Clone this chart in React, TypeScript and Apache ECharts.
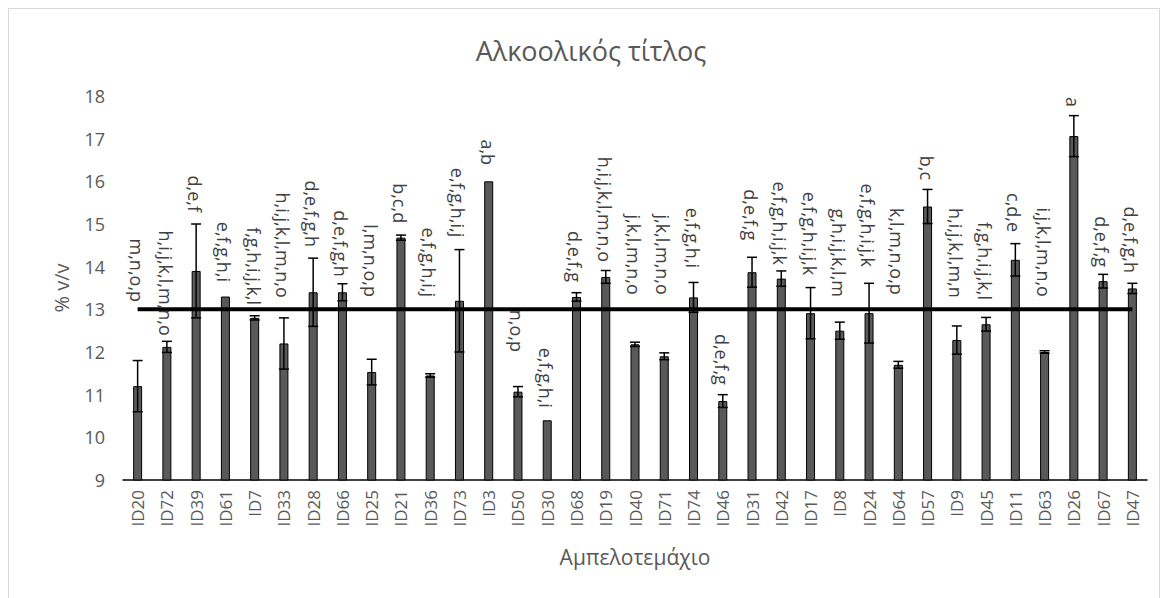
import React, { useEffect, useRef } from "react";
import * as echarts from "echarts";

// Vineyard plots (x-axis categories)
const plots = [
  "ID20", "ID72", "ID39", "ID61", "ID7", "ID33", "ID28", "ID66", "ID25", "ID21",
  "ID36", "ID73", "ID3", "ID50", "ID30", "ID68", "ID19", "ID40", "ID71", "ID74",
  "ID46", "ID31", "ID42", "ID17", "ID8", "ID24", "ID64", "ID57", "ID9", "ID45",
  "ID11", "ID63", "ID26", "ID67", "ID47",
];

// Mean alcoholic strength, % v/v
const alcohol = [
  11.2, 12.12, 13.9, 13.3, 12.8, 12.2, 13.4, 13.4, 11.53, 14.68,
  11.45, 13.2, 16.0, 11.07, 10.4, 13.29, 13.76, 12.18, 11.9, 13.28,
  10.85, 13.87, 13.72, 12.91, 12.5, 12.91, 11.7, 15.41, 12.28, 12.65,
  14.16, 12.0, 17.06, 13.66, 13.49,
];

// Error (±) for each mean
const spread = [
  0.6, 0.13, 1.1, 0, 0.05, 0.6, 0.8, 0.2, 0.3, 0.06,
  0.04, 1.2, 0, 0.12, 0, 0.1, 0.15, 0.05, 0.08, 0.35,
  0.15, 0.35, 0.18, 0.6, 0.2, 0.7, 0.08, 0.4, 0.33, 0.16,
  0.38, 0.03, 0.48, 0.16, 0.12,
];

// Significance groups
const groups = [
  "m,n,o,p", "h,i,j,k,l,m,n,o", "d,e,f", "e,f,g,h,i", "f,g,h,i,j,k,l",
  "h,i,j,k,l,m,n,o", "d,e,f,g,h", "d,e,f,g,h", "l,m,n,o,p", "b,c,d",
  "e,f,g,h,i,j", "e,f,g,h,i,j", "a,b", "n,o,p", "e,f,g,h,i",
  "d,e,f,g", "h,i,j,k,l,m,n,o", "j,k,l,m,n,o", "j,k,l,m,n,o", "e,f,g,h,i",
  "d,e,f,g", "d,e,f,g", "e,f,g,h,i,j,k", "e,f,g,h,i,j,k", "g,h,i,j,k,l,m",
  "e,f,g,h,i,j,k", "k,l,m,n,o,p", "b,c", "h,i,j,k,l,m,n", "f,g,h,i,j,k,l",
  "c,d,e", "i,j,k,l,m,n,o", "a", "d,e,f,g", "d,e,f,g,h",
];

// Level (% v/v) at which each group text ends
const groupLevel = [
  13.17, 12.38, 15.28, 13.64, 13.1, 13.27, 14.46, 13.76, 13.29, 15.02,
  13.29, 14.69, 16.38, 12.0, 10.69, 13.64, 14.11, 13.34, 13.34, 13.97,
  11.23, 14.62, 14.04, 13.8, 13.29, 13.99, 13.34, 16.03, 13.27, 13.22,
  14.81, 13.29, 17.74, 13.99, 13.85,
];

const threshold = 13;
const yMin = 9;
const yMax = 18;

const FONT = "'Open Sans', 'Noto Sans', sans-serif";

export default function App() {
  const ref = useRef<HTMLDivElement>(null);

  useEffect(() => {
    if (!ref.current) return;
    const chart = echarts.init(ref.current, null, { renderer: "svg" });

    const errorBars = (params: any, api: any) => {
      const i = api.value(0);
      const v = api.value(1);
      const e = api.value(2);
      if (!e) return { type: "group", children: [] };
      const top = api.coord([i, v + e]);
      const bot = api.coord([i, v - e]);
      const w = 5;
      const st = { stroke: "#000", lineWidth: 1.5 };
      return {
        type: "group",
        children: [
          { type: "line", shape: { x1: top[0], y1: top[1], x2: bot[0], y2: bot[1] }, style: st },
          { type: "line", shape: { x1: top[0] - w, y1: top[1], x2: top[0] + w, y2: top[1] }, style: st },
          { type: "line", shape: { x1: bot[0] - w, y1: bot[1], x2: bot[0] + w, y2: bot[1] }, style: st },
        ],
      };
    };

    const groupTexts = (params: any, api: any) => {
      const i = api.value(0);
      const p = api.coord([i, api.value(1)]);
      return {
        type: "text",
        x: p[0] - 1,
        y: p[1],
        rotation: -Math.PI / 2,
        style: {
          text: groups[i],
          align: "right",
          verticalAlign: "middle",
          fill: "#404040",
          fontSize: 18,
          fontFamily: FONT,
        },
      };
    };

    chart.setOption({
      animation: false,
      backgroundColor: "#ffffff",
      graphic: [
        {
          type: "rect",
          silent: true,
          shape: { x: 8.5, y: 8.5, width: 1151, height: 600 },
          style: { fill: "none", stroke: "#d9d9d9", lineWidth: 1 },
        },
        {
          type: "text",
          silent: true,
          x: 591,
          y: 50,
          style: {
            text: "Αλκοολικός τίτλος",
            align: "center",
            verticalAlign: "middle",
            fill: "#595959",
            fontSize: 27,
            fontFamily: FONT,
          },
        },
      ],
      grid: { left: 123, right: 22, top: 96, bottom: 118 },
      xAxis: {
        type: "category",
        data: plots,
        axisLine: { lineStyle: { color: "#000", width: 1.5 } },
        axisTick: { show: false },
        axisLabel: {
          interval: 0,
          rotate: 90,
          margin: 10,
          color: "#595959",
          fontSize: 17,
          fontFamily: FONT,
        },
        name: "Αμπελοτεμάχιο",
        nameLocation: "middle",
        nameGap: 66,
        nameTextStyle: { color: "#595959", fontSize: 21, fontFamily: FONT },
      },
      yAxis: {
        type: "value",
        min: yMin,
        max: yMax,
        interval: 1,
        splitLine: { show: false },
        axisLine: { show: false },
        axisTick: { show: false },
        axisLabel: { color: "#595959", fontSize: 18, fontFamily: FONT, margin: 18 },
        name: "% v/v",
        nameLocation: "middle",
        nameGap: 52,
        nameTextStyle: { color: "#595959", fontSize: 20, fontFamily: FONT },
      },
      series: [
        {
          type: "bar",
          data: alcohol,
          barWidth: 9,
          itemStyle: { color: "#595959", borderColor: "#000", borderWidth: 1 },
          z: 2,
        },
        {
          type: "line",
          data: plots.map(() => threshold),
          symbol: "none",
          lineStyle: { color: "#000", width: 4 },
          z: 3,
        },
        {
          type: "custom",
          data: alcohol.map((v, i) => [i, v, spread[i]]),
          encode: { x: 0, y: 1 },
          renderItem: errorBars,
          z: 4,
        },
        {
          type: "custom",
          data: groupLevel.map((v, i) => [i, v]),
          encode: { x: 0, y: 1 },
          renderItem: groupTexts,
          z: 5,
        },
      ],
    });

    return () => chart.dispose();
  }, []);

  return (
    <div
      ref={ref}
      style={{ position: "fixed", left: 0, top: 0, width: 1169, height: 598 }}
    />
  );
}
